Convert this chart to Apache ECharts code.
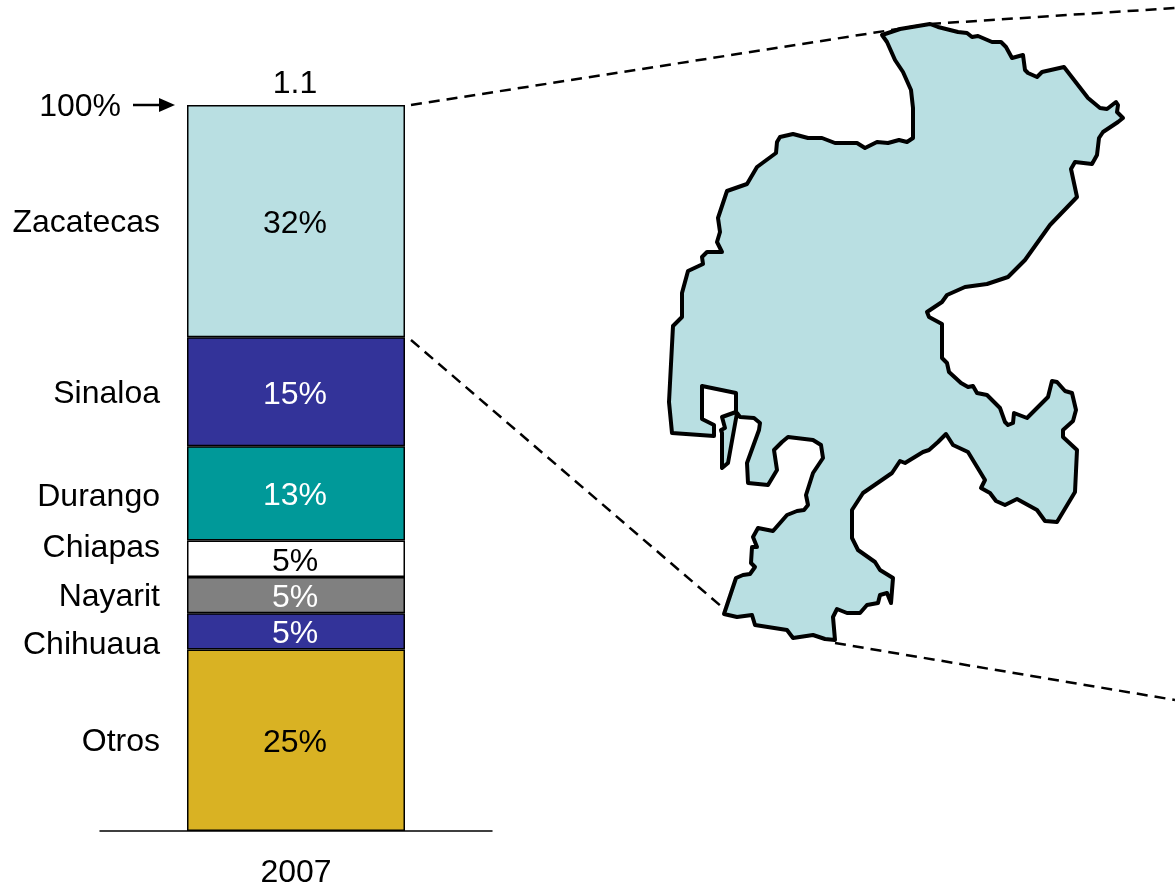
<!DOCTYPE html>
<html>
<head>
<meta charset="utf-8">
<title>Zacatecas</title>
<script src="https://cdn.jsdelivr.net/npm/echarts@6/dist/echarts.min.js"></script>
<style>
html, body { margin: 0; padding: 0; background: #fff; }
#chart { width: 1175px; height: 883px; }
</style>
</head>
<body>
<div id="chart"></div>
<script>
// top of the column first, the stack is built bottom up further down
var years = ['2007'];
var states = ['Zacatecas', 'Sinaloa', 'Durango', 'Chiapas', 'Nayarit', 'Chihuaua', 'Otros'];
var shares = [32, 15, 13, 5, 5, 5, 25];
var totalLabel = '1.1';
var topLabel = '100%';

// state outline
var outline = [
    [882,35],[900,29],[930,24],[938,27],[958,32],[967,33],[972,37],[978,36],[992,42],[1001,42],
    [1006,47],[1012,58],[1023,55],[1025,70],[1028,73],[1037,77],[1042,72],[1064,67],[1088,98],[1100,108],
    [1107,109],[1116,102],[1118,105],[1117,112],[1123,118],[1118,122],[1103,132],[1099,138],[1097,155],[1092,164],
    [1075,162],[1071,169],[1077,197],[1050,225],[1025,260],[1008,277],[987,284],[965,287],[947,295],[942,302],
    [927,312],[929,317],[942,324],[942,358],[947,363],[949,372],[961,383],[968,387],[973,386],[977,393],
    [987,395],[1000,408],[1005,422],[1008,425],[1013,423],[1014,413],[1027,418],[1048,397],[1052,381],[1057,382],
    [1065,391],[1072,393],[1076,410],[1073,421],[1063,430],[1063,437],[1077,450],[1075,492],[1057,522],[1045,521],
    [1037,510],[1017,499],[1005,505],[996,501],[990,493],[981,488],[985,480],[968,452],[953,445],[946,434],
    [938,442],[929,450],[923,452],[905,463],[900,461],[892,473],[863,493],[852,510],[852,538],[858,550],
    [875,562],[880,570],[893,578],[891,603],[887,593],[880,595],[878,603],[867,605],[860,613],[847,613],
    [837,609],[833,617],[835,640],[825,639],[813,635],[793,638],[787,630],[755,625],[752,615],[737,617],
    [724,614],[732,590],[736,578],[743,575],[750,574],[755,567],[751,563],[752,547],[757,547],[753,537],
    [758,528],[773,531],[787,515],[797,511],[804,510],[808,505],[806,495],[813,473],[823,458],[821,445],
    [813,440],[788,437],[782,442],[774,450],[777,470],[768,485],[748,483],[747,463],[759,430],[760,423],
    [754,418],[740,417],[737,413],[728,463],[722,468],[722,433],[721,430],[725,428],[722,417],[736,412],
    [736,393],[702,386],[702,419],[714,425],[714,436],[672,433],[669,402],[673,326],[682,317],[682,293],
    [688,271],[703,264],[702,257],[707,252],[722,252],[717,242],[720,232],[718,218],[727,191],[747,184],
    [757,167],[776,153],[777,142],[780,137],[793,134],[808,138],[822,138],[835,143],[857,143],[865,148],
    [877,142],[888,143],[899,140],[907,142],[913,138],[913,108],[911,90],[903,72],[895,60],[887,42],[882,35]
];

var fills = {
    Zacatecas: '#B9DFE2', Sinaloa: '#333399', Durango: '#009999', Chiapas: '#FFFFFF',
    Nayarit: '#808080', Chihuaua: '#333399', Otros: '#D9B223'
};
var labelColors = {
    Zacatecas: '#000', Sinaloa: '#fff', Durango: '#fff', Chiapas: '#000',
    Nayarit: '#fff', Chihuaua: '#fff', Otros: '#000'
};
// y centre of the names at the left, they do not sit on the middle of their segment
var nameY = { Zacatecas: 223, Sinaloa: 394, Durango: 497, Chiapas: 548, Nayarit: 597, Chihuaua: 645, Otros: 742 };

var font = '"Liberation Sans", Arial, sans-serif';
var fontSize = 32;

echarts.registerMap('zacatecas', {
    type: 'FeatureCollection',
    features: [{
        type: 'Feature',
        properties: { name: 'Zacatecas' },
        geometry: {
            type: 'Polygon',
            coordinates: [outline.map(function (p) { return [p[0], -p[1]]; })]
        }
    }]
});

var series = [];
for (var i = states.length - 1; i >= 0; i--) {
    series.push({
        name: states[i],
        type: 'bar',
        stack: 'total',
        barWidth: 218,
        data: [shares[i]],
        itemStyle: { color: fills[states[i]], borderColor: '#000', borderWidth: 1.5 },
        label: {
            show: true,
            position: 'inside',
            offset: [-1, 3],
            formatter: '{c}%',
            color: labelColors[states[i]],
            fontFamily: font,
            fontSize: fontSize
        }
    });
}
// empty segment on top, only carries the 1.1
series.push({
    name: 'total',
    type: 'bar',
    stack: 'total',
    barWidth: 218,
    data: [0],
    itemStyle: { color: 'transparent', borderWidth: 0 },
    label: {
        show: true,
        position: 'top',
        distance: 5,
        offset: [-1, 0],
        formatter: totalLabel,
        color: '#000',
        fontFamily: font,
        fontSize: fontSize
    }
});

var graphic = [];
states.forEach(function (s) {
    graphic.push({
        type: 'text',
        x: 160,
        y: nameY[s],
        style: { text: s, fill: '#000', font: fontSize + 'px ' + font, textAlign: 'right', textVerticalAlign: 'middle' }
    });
});
graphic.push({
    type: 'text',
    x: 121,
    y: 107,
    style: { text: topLabel, fill: '#000', font: fontSize + 'px ' + font, textAlign: 'right', textVerticalAlign: 'middle' }
});
// arrow next to 100%
graphic.push({ type: 'line', shape: { x1: 133, y1: 105, x2: 165, y2: 105 }, style: { stroke: '#000', lineWidth: 2.5 } });
graphic.push({ type: 'polygon', shape: { points: [[159, 98], [175, 105], [159, 112]] }, style: { fill: '#000' } });
// dashed zoom lines from the column to the map
var dashes = [
    [411, 105, 930, 24],
    [930, 24, 1175, 8],
    [411, 340, 722, 607],
    [835, 643, 1175, 700]
];
dashes.forEach(function (d) {
    graphic.push({
        type: 'line',
        z: -1,
        shape: { x1: d[0], y1: d[1], x2: d[2], y2: d[3] },
        style: { stroke: '#000', lineWidth: 2.5, lineDash: [11, 7] }
    });
});

var option = {
    animation: false,
    backgroundColor: '#fff',
    grid: { left: 100, top: 105, width: 392, height: 726, outerBoundsMode: 'none' },
    xAxis: {
        type: 'category',
        data: years,
        axisLine: { lineStyle: { color: '#000', width: 1.5 } },
        axisTick: { show: false },
        axisLabel: { color: '#000', fontFamily: font, fontSize: fontSize, margin: 26 }
    },
    yAxis: { type: 'value', min: 0, max: 100, show: false },
    geo: {
        map: 'zacatecas',
        left: 669,
        top: 24,
        width: 454,
        height: 616,
        aspectScale: 1,
        silent: true,
        label: { show: false },
        itemStyle: { areaColor: '#B9DFE2', borderColor: '#000', borderWidth: 4, borderJoin: 'round' }
    },
    series: series,
    graphic: graphic
};

var chart = echarts.init(document.getElementById('chart'));
chart.setOption(option);
</script>
</body>
</html>
